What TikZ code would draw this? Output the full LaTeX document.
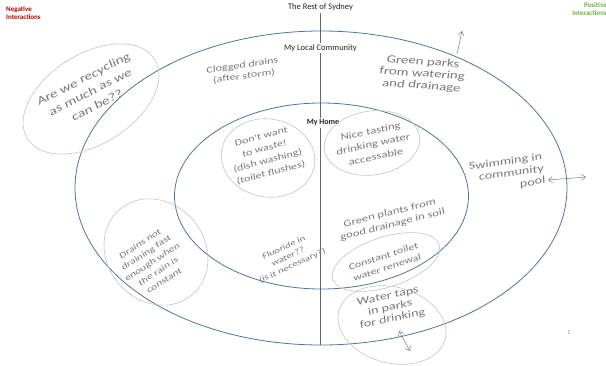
\documentclass[tikz,border=0pt]{standalone}
\usepackage{fontspec}
\setmainfont{Carlito}
\newfontfamily\handfont{Carlito}[FakeStretch=1.35,FakeSlant=0.08]
\usetikzlibrary{arrows.meta}
\definecolor{ringblue}{RGB}{74,118,160}
\definecolor{negred}{RGB}{192,0,0}
\definecolor{posgreen}{RGB}{112,173,71}
\definecolor{inkgray}{RGB}{120,120,120}
\definecolor{loopgray}{RGB}{195,195,195}
\newcommand{\hs}[2]{\handfont\fontsize{#1}{#2}\selectfont}
\tikzset{
  ring/.style={draw=ringblue, line width=0.8pt},
  divider/.style={draw=gray!80!black, line width=0.6pt},
  scopelabel/.style={font=\fontsize{8.5}{10}\selectfont, text=black!85, fill=white, inner sep=1.5pt},
  sidelabel/.style={font=\bfseries\fontsize{7}{8.5}\selectfont, align=left, inner sep=0pt},
  hand/.style={text=inkgray, align=center, inner sep=0pt},
  loop/.style={draw=loopgray, line width=0.6pt},
  handarrow/.style={draw=inkgray, line width=0.5pt, -{Straight Barb[length=4pt,width=6pt]}},
  handdouble/.style={draw=inkgray, line width=0.5pt, {Straight Barb[length=4pt,width=6pt]}-{Straight Barb[length=4pt,width=6pt]}}
}
\begin{document}
\begin{tikzpicture}[x=1pt,y=-1pt]
\useasboundingbox (0,0) rectangle (606,365);
% main rings
\draw[ring] (321,188) ellipse [x radius=246, y radius=157];
\draw[ring] (321.5,196) ellipse [x radius=147, y radius=93];
% divider
\coordinate (dtop) at (320.5,13);
\coordinate (dbot) at (320.5,345);
\draw[divider] (dtop) -- (dbot);
% scope labels
\node[scopelabel] (sydney) at (320.5,7) {The Rest of Sydney};
\node[scopelabel] (community) at (320.5,48) {My Local Community};
\node[scopelabel, font=\bfseries\fontsize{8}{10}\selectfont] (home) at (323,123) {My Home};
% side labels
\node[sidelabel, text=negred, anchor=north west] (neg) at (6,6) {Negative\\Interactions};
\node[sidelabel, text=posgreen, anchor=north east, align=right] (pos) at (607,2) {Positive\\Interactions};
% handwritten notes with loops
\draw[loop, rotate around={32:(91,99)}] (91,99) ellipse [x radius=75, y radius=45];
\node[hand, rotate=27, font=\hs{11.5}{15}] (recycle) at (90,92) {Are we recycling\\as much as we\\can be??};

\node[hand, rotate=8, font=\hs{9}{11}] (clogged) at (243,71) {Clogged drains\\(after storm)};

\node[hand, rotate=-4, font=\hs{11}{12}] (parks) at (422,74) {Green parks\\from watering\\and drainage};
\coordinate (parkA) at (457,54);
\coordinate (parkB) at (462,31);
\draw[handarrow] (parkA) -- (parkB);

\draw[loop, rotate around={-10:(268,158)}] (268,158) ellipse [x radius=47, y radius=39];
\node[hand, rotate=15, font=\hs{9}{12.5}] (waste) at (266,155) {Don't want\\to waste!\\(dish washing)\\(toilet flushes)};

\draw[loop, rotate around={8:(372,143)}] (372,143) ellipse [x radius=48, y radius=32];
\node[hand, rotate=12, font=\hs{9.5}{13}] (tasting) at (373,144) {Nice tasting\\drinking water\\accessable};

\node[hand, rotate=8, align=right, font=\hs{10.5}{12}] (swim) at (507,174) {Swimming in\\community\\pool};
\coordinate (swimA) at (548,180);
\coordinate (swimB) at (586,177);
\draw[handdouble] (swimA) -- (swimB);

\node[hand, rotate=14, font=\hs{9.5}{12}] (plants) at (391,219) {Green plants from\\good drainage in soil};

\draw[loop, rotate around={18:(386,262)}] (386,262) ellipse [x radius=56, y radius=25];
\node[hand, rotate=18, font=\hs{9}{12}] (toilet) at (385,262) {Constant toilet\\water renewal};

\draw[loop, rotate around={-15:(392,325)}] (392,325) ellipse [x radius=55, y radius=38];
\node[hand, rotate=12, font=\hs{10.5}{11.5}] (taps) at (390,308) {Water taps\\in parks\\for drinking};
\coordinate (tapA) at (399,331);
\coordinate (tapB) at (410,351);
\draw[handdouble] (tapA) -- (tapB);

\node[hand, rotate=25, font=\hs{8}{10}] (fluoride) at (288,257) {Fluoride in\\water??\\(is it necessary?)};

\draw[loop, rotate around={-50:(156,252)}] (156,252) ellipse [x radius=56, y radius=49];
\node[hand, rotate=33, font=\hs{8.5}{11}] (drains) at (152,262) {Drains not\\draining fast\\enough when\\the rain is\\constant};

\node[font=\fontsize{6}{7}\selectfont, text=gray] (pagenum) at (569,333) {1};
\end{tikzpicture}
\end{document}
